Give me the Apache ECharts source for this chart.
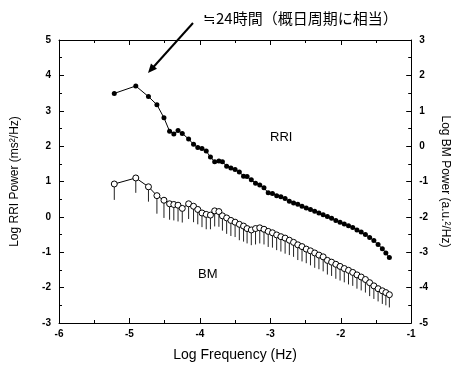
<!DOCTYPE html>
<html><head><meta charset="utf-8">
<script src="https://cdn.jsdelivr.net/npm/echarts@6/dist/echarts.min.js"></script>
<style>html,body{margin:0;padding:0;background:#fff}#c{width:459px;height:367px}</style>
</head><body><div id="c"></div>
<script>
const freq = [-5.215,-4.91,-4.73,-4.61,-4.51,-4.43,-4.37,-4.31,-4.25,-4.16,
  -4.09,-4.03,-3.97,-3.91,-3.85,-3.79,-3.73,-3.68,-3.62,-3.56,
  -3.50,-3.44,-3.38,-3.33,-3.27,-3.21,-3.15,-3.09,-3.03,-2.97,
  -2.91,-2.85,-2.79,-2.73,-2.67,-2.61,-2.55,-2.49,-2.43,-2.37,
  -2.31,-2.25,-2.19,-2.13,-2.07,-2.01,-1.95,-1.89,-1.83,-1.77,
  -1.71,-1.65,-1.59,-1.53,-1.47,-1.41,-1.36,-1.31];
const rri = [3.49,3.70,3.40,3.17,2.80,2.42,2.34,2.44,2.36,2.20,
  2.05,1.96,1.93,1.86,1.69,1.56,1.58,1.56,1.43,1.38,
  1.34,1.27,1.15,1.14,1.05,0.95,0.90,0.82,0.68,0.66,
  0.60,0.57,0.52,0.44,0.39,0.36,0.30,0.25,0.21,0.16,
  0.11,0.06,0.01,-0.04,-0.10,-0.15,-0.20,-0.25,-0.30,-0.37,
  -0.43,-0.50,-0.58,-0.67,-0.78,-0.90,-1.02,-1.15];
const bm = [0.93,1.10,0.85,0.60,0.47,0.37,0.35,0.33,0.24,0.37,
  0.30,0.21,0.11,0.07,0.05,0.17,0.15,0.03,-0.03,-0.10,
  -0.15,-0.21,-0.26,-0.33,-0.37,-0.33,-0.31,-0.35,-0.41,-0.45,
  -0.51,-0.56,-0.60,-0.66,-0.72,-0.79,-0.84,-0.91,-0.96,-1.02,
  -1.08,-1.13,-1.23,-1.28,-1.34,-1.40,-1.46,-1.51,-1.57,-1.64,
  -1.70,-1.77,-1.86,-1.95,-2.03,-2.09,-2.14,-2.20];
const bmErr = [0.45,0.42,0.42,0.51,0.50,0.45,0.45,0.46,0.40,0.43,
  0.45,0.42,0.40,0.42,0.40,0.44,0.43,0.42,0.45,0.44,
  0.42,0.45,0.44,0.42,0.43,0.45,0.44,0.43,0.44,0.42,
  0.43,0.42,0.44,0.42,0.41,0.43,0.42,0.40,0.41,0.42,
  0.40,0.41,0.40,0.39,0.41,0.40,0.39,0.40,0.38,0.39,
  0.38,0.37,0.38,0.37,0.36,0.37,0.36,0.36];
const xTicks = [-6,-5,-4,-3,-2,-1];
const leftTicks = [-3,-2,-1,0,1,2,3,4,5];
const rightTicks = [-5,-4,-3,-2,-1,0,1,2,3];

const rriData = freq.map((f,i)=>[f,rri[i]]);
const bmData = freq.map((f,i)=>[f,bm[i]]);
const errData = freq.map((f,i)=>[f,bm[i],bm[i]-bmErr[i]]);

const lblFont = {color:'#000',fontSize:10,fontWeight:'bold',fontFamily:'Liberation Sans, Arial'};
const chart = echarts.init(document.getElementById('c'));
const tickCommon = {show:true,inside:true,length:5,lineStyle:{color:'#000',width:1}};
const minorCommon = {show:true,splitNumber:2,length:3,lineStyle:{color:'#000',width:1}};
chart.setOption({
  animation:false,
  backgroundColor:'#fff',
  grid:{left:59,right:45,top:40,bottom:38,show:false},
  xAxis:[{
    type:'value',min:xTicks[0],max:xTicks[xTicks.length-1],interval:1,position:'bottom',
    axisLine:{show:true,onZero:false,lineStyle:{color:'#000',width:1}},
    axisTick:tickCommon,minorTick:minorCommon,splitLine:{show:false},
    axisLabel:Object.assign({margin:6},lblFont),
    name:'Log Frequency (Hz)',nameLocation:'middle',nameGap:25,
    nameTextStyle:{color:'#000',fontSize:14,fontFamily:'Liberation Sans, Arial'}
  },{
    type:'value',min:xTicks[0],max:xTicks[xTicks.length-1],interval:1,position:'top',
    axisLine:{show:true,onZero:false,lineStyle:{color:'#000',width:1}},
    axisTick:tickCommon,minorTick:minorCommon,splitLine:{show:false},
    axisLabel:{show:false}
  }],
  yAxis:[{
    type:'value',min:leftTicks[0],max:leftTicks[leftTicks.length-1],interval:1,position:'left',
    axisLine:{show:true,onZero:false,lineStyle:{color:'#000',width:1}},
    axisTick:tickCommon,minorTick:minorCommon,splitLine:{show:false},
    axisLabel:Object.assign({margin:8},lblFont),
    name:'Log RRI Power (ms²/Hz)',nameLocation:'middle',nameGap:38,nameRotate:90,
    nameTextStyle:{color:'#000',fontSize:12,fontFamily:'Liberation Sans, Arial'}
  },{
    type:'value',min:rightTicks[0],max:rightTicks[rightTicks.length-1],interval:1,position:'right',
    axisLine:{show:true,onZero:false,lineStyle:{color:'#000',width:1}},
    axisTick:tickCommon,minorTick:minorCommon,splitLine:{show:false},
    axisLabel:Object.assign({margin:8},lblFont),
    name:'Log BM Power (a.u.²/Hz)',nameLocation:'middle',nameGap:26,nameRotate:-90,
    nameTextStyle:{color:'#000',fontSize:12,fontFamily:'Liberation Sans, Arial'}
  }],
  series:[{
    type:'custom',xAxisIndex:0,yAxisIndex:0,z:1,
    renderItem:function(params,api){
      const p1=api.coord([api.value(0),api.value(1)]);
      const p2=api.coord([api.value(0),api.value(2)]);
      return {type:'line',shape:{x1:p1[0],y1:p1[1],x2:p2[0],y2:p2[1]},style:{stroke:'#222',lineWidth:1}};
    },
    encode:{x:0,y:[1,2]},
    data:errData
  },{
    type:'line',name:'BM',xAxisIndex:0,yAxisIndex:0,z:3,
    data:bmData,symbol:'circle',symbolSize:6,showSymbol:true,
    lineStyle:{color:'#000',width:1},
    itemStyle:{color:'#fff',borderColor:'#000',borderWidth:1}
  },{
    type:'line',name:'RRI',xAxisIndex:0,yAxisIndex:0,z:3,
    data:rriData,symbol:'circle',symbolSize:5,showSymbol:true,
    lineStyle:{color:'#000',width:1},
    itemStyle:{color:'#000',borderColor:'#000',borderWidth:0}
  }],
  graphic:[
    {type:'text',left:203,top:11,style:{text:'≒24時間（概日周期に相当）',fill:'#000',fontSize:15,fontFamily:'Noto Sans CJK JP'}},
    {type:'line',shape:{x1:193,y1:23,x2:153,y2:67.5},style:{stroke:'#000',lineWidth:2}},
    {type:'polygon',shape:{points:[[148,73],[157,68.8],[151,63.5]]},style:{fill:'#000'}},
    {type:'text',left:270,top:131,style:{text:'RRI',fill:'#000',fontSize:13,fontFamily:'Liberation Sans, Arial'}},
    {type:'text',left:198,top:268,style:{text:'BM',fill:'#000',fontSize:13,fontFamily:'Liberation Sans, Arial'}}
  ]
});
</script></body></html>
